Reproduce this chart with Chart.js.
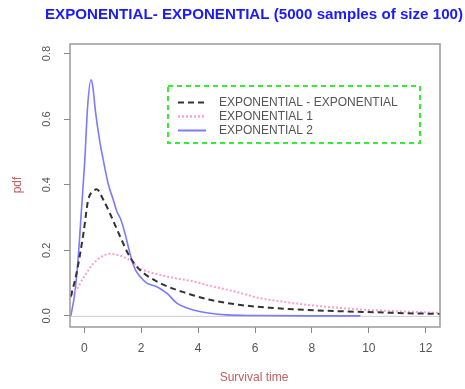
<!DOCTYPE html>
<html>
<head>
<meta charset="utf-8">
<script src="https://cdn.jsdelivr.net/npm/chart.js@4.4.0/dist/chart.umd.min.js"></script>
<style>html,body{margin:0;padding:0;background:#fff;}canvas{display:block;}</style>
</head>
<body>
<canvas id="c" width="465" height="389"></canvas>
<script>
// ---- data ----
const titleText = "EXPONENTIAL- EXPONENTIAL (5000 samples of size 100)";
const xAxisLabel = "Survival time";
const yAxisLabel = "pdf";
const seriesNames = ["EXPONENTIAL - EXPONENTIAL", "EXPONENTIAL 1", "EXPONENTIAL 2"];
const xTicks = [0, 2, 4, 6, 8, 10, 12];
const yTicks = [0.0, 0.2, 0.4, 0.6, 0.8];
const yTickLabels = ["0.0", "0.2", "0.4", "0.6", "0.8"];

const mixX = [-0.47, -0.27, -0.03, 0.14, 0.32, 0.44, 0.67, 0.9, 1.26, 1.6, 1.96, 2.66, 3.6, 4.42, 5.5, 6.5, 7.8, 9.0, 10.2, 11.3, 12.5];
const mixY = [0.059, 0.13, 0.25, 0.354, 0.38, 0.386, 0.354, 0.313, 0.242, 0.18, 0.14, 0.10, 0.069, 0.049, 0.033, 0.025, 0.018, 0.014, 0.011, 0.008, 0.006];

const exp1X = [-0.5, -0.27, 0.0, 0.32, 0.6, 0.9, 1.2, 1.6, 1.96, 2.66, 3.2, 3.83, 4.4, 5.0, 5.6, 6.17, 7.0, 7.8, 9.0, 10.0, 11.3, 12.5];
const exp1Y = [0.054, 0.08, 0.12, 0.16, 0.18, 0.189, 0.185, 0.17, 0.145, 0.125, 0.115, 0.105, 0.092, 0.08, 0.067, 0.054, 0.043, 0.034, 0.024, 0.018, 0.013, 0.009];

const exp2X = [-0.47, -0.33, -0.21, -0.1, 0.02, 0.12, 0.24, 0.3, 0.4, 0.55, 0.67, 0.85, 1.02, 1.14, 1.3, 1.43, 1.55, 1.67, 1.8, 1.96, 2.2, 2.55, 2.9, 3.25, 3.5, 3.83, 4.42, 5.0, 6.0, 8.0, 9.7];
const exp2Y = [0.0, 0.07, 0.18, 0.32, 0.475, 0.64, 0.72, 0.70, 0.62, 0.53, 0.475, 0.40, 0.354, 0.32, 0.29, 0.252, 0.21, 0.17, 0.14, 0.12, 0.10, 0.089, 0.069, 0.039, 0.028, 0.018, 0.008, 0.003, 0.001, 0.0, 0.0];

const xMin = -0.5, xMax = 12.5, yMin = -0.034, yMax = 0.829;

const FONT = '"Liberation Sans", Arial, sans-serif';
const colors = { mix: '#333333', exp1: '#ff9fd0', exp2: '#7b7bff' };

function pts(xs, ys) { return xs.map((x, i) => ({ x: x, y: ys[i] })); }

function fitText(ctx, text, cx, cy, width) {
  const w = ctx.measureText(text).width;
  ctx.save();
  ctx.translate(cx, cy);
  ctx.scale(width / w, 1);
  ctx.fillText(text, 0, 0);
  ctx.restore();
}

const decorPlugin = {
  id: 'decor',
  beforeDatasetsDraw(chart) {
    const ctx = chart.ctx, a = chart.chartArea, ys = chart.scales.y;
    ctx.save();
    const y0 = ys.getPixelForValue(0);
    ctx.strokeStyle = '#cccccc'; ctx.lineWidth = 1;
    ctx.beginPath(); ctx.moveTo(a.left, y0 + 0.5); ctx.lineTo(a.right, y0 + 0.5); ctx.stroke();
    ctx.restore();
  },
  afterDraw(chart) {
    const ctx = chart.ctx, a = chart.chartArea, xs = chart.scales.x, ys = chart.scales.y;
    ctx.save();
    // frame
    ctx.strokeStyle = '#9a9a9a'; ctx.lineWidth = 1.5;
    ctx.strokeRect(a.left, a.top, a.right - a.left, a.bottom - a.top);
    // title
    ctx.fillStyle = '#1a1aff';
    ctx.font = 'bold 14px ' + FONT;
    ctx.textAlign = 'center'; ctx.textBaseline = 'middle';
    fitText(ctx, titleText, 254, 15, 418);
    // x tick labels
    ctx.fillStyle = '#555555';
    ctx.font = '12px ' + FONT;
    xTicks.forEach(v => ctx.fillText(String(v), xs.getPixelForValue(v), 349));
    // y tick labels rotated
    ctx.font = '11px ' + FONT;
    yTicks.forEach((v, i) => {
      ctx.save();
      ctx.translate(47, ys.getPixelForValue(v));
      ctx.rotate(-Math.PI / 2);
      ctx.fillText(yTickLabels[i], 0, 0);
      ctx.restore();
    });
    // axis titles
    ctx.fillStyle = '#c06060';
    ctx.font = '12px ' + FONT;
    ctx.fillText(xAxisLabel, 254, 378);
    ctx.save();
    ctx.translate(18, 185);
    ctx.rotate(-Math.PI / 2);
    ctx.fillText(yAxisLabel, 0, 0);
    ctx.restore();
    // legend box
    ctx.strokeStyle = '#33ee33'; ctx.lineWidth = 2; ctx.setLineDash([5, 4]);
    ctx.strokeRect(168, 86, 252, 57);
    const rowsY = [102.5, 116.5, 130.5];
    const styles = [
      { c: colors.mix, w: 2, d: [6, 4] },
      { c: colors.exp1, w: 2.5, d: [2, 2] },
      { c: colors.exp2, w: 2, d: [] }
    ];
    ctx.textAlign = 'left';
    ctx.font = '12px ' + FONT;
    rowsY.forEach((y, i) => {
      ctx.strokeStyle = styles[i].c; ctx.lineWidth = styles[i].w; ctx.setLineDash(styles[i].d);
      ctx.beginPath(); ctx.moveTo(178, y); ctx.lineTo(206, y); ctx.stroke();
      ctx.fillStyle = '#555555';
      ctx.fillText(seriesNames[i], 219, y);
    });
    ctx.restore();
  }
};

new Chart(document.getElementById('c'), {
  type: 'line',
  data: {
    datasets: [
      { label: seriesNames[0], data: pts(mixX, mixY), borderColor: colors.mix, borderWidth: 2, borderDash: [6, 4], pointRadius: 0, fill: false, cubicInterpolationMode: 'monotone' },
      { label: seriesNames[1], data: pts(exp1X, exp1Y), borderColor: colors.exp1, borderWidth: 2, borderDash: [2, 2], pointRadius: 0, fill: false, cubicInterpolationMode: 'monotone' },
      { label: seriesNames[2], data: pts(exp2X, exp2Y), borderColor: colors.exp2, borderWidth: 1.6, pointRadius: 0, fill: false, cubicInterpolationMode: 'monotone' }
    ]
  },
  options: {
    responsive: false,
    animation: false,
    devicePixelRatio: 1,
    layout: { padding: { left: 64, top: 44, right: 25, bottom: 56 } },
    plugins: { legend: { display: false }, title: { display: false }, tooltip: { enabled: false } },
    scales: {
      x: {
        type: 'linear', min: xMin, max: xMax,
        afterBuildTicks: (axis) => { axis.ticks = xTicks.map(v => ({ value: v })); },
        ticks: { display: false },
        grid: { drawOnChartArea: false, drawTicks: true, tickLength: 6, tickColor: '#888888', tickWidth: 1 },
        border: { display: false }
      },
      y: {
        type: 'linear', min: yMin, max: yMax,
        afterBuildTicks: (axis) => { axis.ticks = yTicks.map(v => ({ value: v })); },
        ticks: { display: false },
        grid: { drawOnChartArea: false, drawTicks: true, tickLength: 6, tickColor: '#888888', tickWidth: 1 },
        border: { display: false }
      }
    }
  },
  plugins: [decorPlugin]
});
</script>
</body>
</html>
